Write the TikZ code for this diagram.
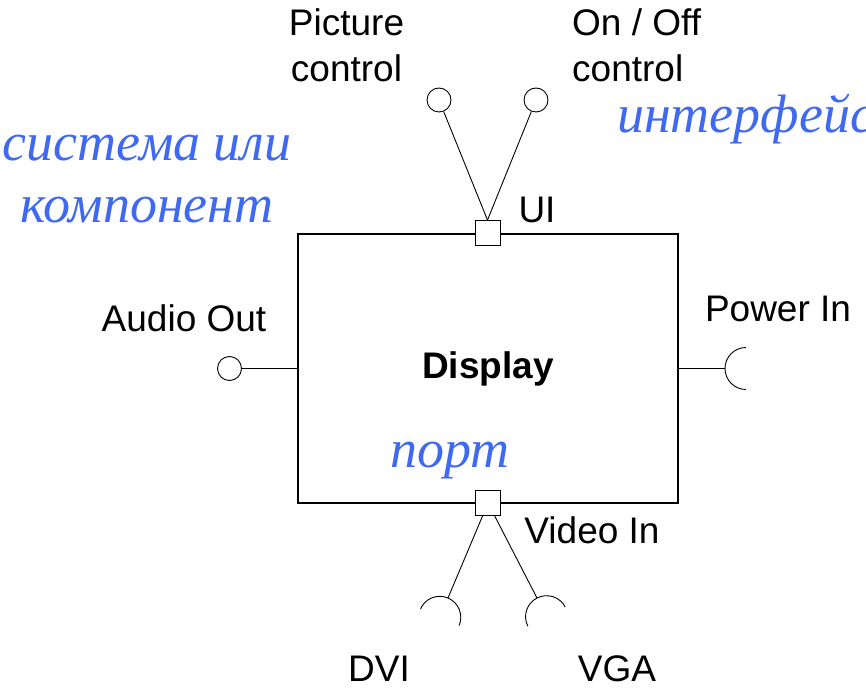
\documentclass[tikz,border=0pt]{standalone}
\usepackage{fontspec}
\setmainfont{Liberation Sans}
\newfontfamily\rufont{Liberation Serif}
\usetikzlibrary{positioning}
\definecolor{rublue}{RGB}{62,105,240}

\begin{document}
\begin{tikzpicture}[x=1pt,y=1pt,
 lbl/.style={inner sep=0pt,font=\fontsize{37}{46}\selectfont},
 rulbl/.style={inner sep=0pt,text=rublue,font=\fontsize{54}{62}\selectfont\rufont\itshape},
 portbox/.style={draw,fill=white,line width=0.9pt,minimum size=25pt,inner sep=0pt},
 lolli/.style={draw,circle,line width=0.9pt,minimum size=24pt,inner sep=0pt},
 wire/.style={line width=0.9pt}]
\useasboundingbox (0,0) rectangle (866,688);
\node[draw,line width=1.3pt,minimum width=380pt,minimum height=269pt,
 font=\fontsize{37}{46}\selectfont\bfseries] (display) at (488,319.5) {Display};
\node[portbox] (ui) at (487.5,455) {};
\node[portbox] (video) at (488,185) {};
\node[lolli] (picture) at (439,588) {};
\node[lolli] (onoff) at (536,588) {};
\node[lolli] (audio) at (229.5,319.5) {};
\draw[wire] (picture) -- (ui.north);
\draw[wire] (onoff) -- (ui.north);
\draw[wire] (audio) -- (display.west);
\coordinate (powertip) at (725,319.5);
\coordinate (dvitip) at (448,90);
\coordinate (vgatip) at (537,90);
\draw[wire] (display.east) -- (powertip);
\draw[wire] (video) -- (dvitip);
\draw[wire] (video) -- (vgatip);
\draw[wire] (powertip) arc[start angle=180,end angle=90,radius=21]
 (powertip) arc[start angle=180,end angle=270,radius=21];
\draw[wire] (dvitip) arc[start angle=66.9,end angle=-23.1,radius=21]
 (dvitip) arc[start angle=66.9,end angle=156.9,radius=21];
\draw[wire] (vgatip) arc[start angle=117.1,end angle=27.1,radius=21]
 (vgatip) arc[start angle=117.1,end angle=207.1,radius=21];
\node[lbl,align=center] (piclbl) at (346.5,642.3) {Picture\\control};
\node[lbl,align=left,anchor=west] (onofflbl) at (572,642.3) {On / Off\\control};
\node[lbl,anchor=base] (uilbl) at (537,465.5) {UI};
\node[lbl,anchor=base] (audiolbl) at (184,356) {Audio Out};
\node[lbl,anchor=base] (powerlbl) at (778,366.5) {Power In};
\node[lbl,anchor=base] (videolbl) at (592,144.5) {Video In};
\node[lbl,anchor=base] (dvilbl) at (379,7) {DVI};
\node[lbl,anchor=base] (vgalbl) at (617,7) {VGA};
\node[rulbl,align=center] (syslbl) at (147,509) {система или\\компонент};
\node[rulbl,anchor=base west] (iflbl) at (617,555) {интерфейс};
\node[rulbl,anchor=base] (portlbl) at (450,220) {порт};
\end{tikzpicture}
\end{document}
